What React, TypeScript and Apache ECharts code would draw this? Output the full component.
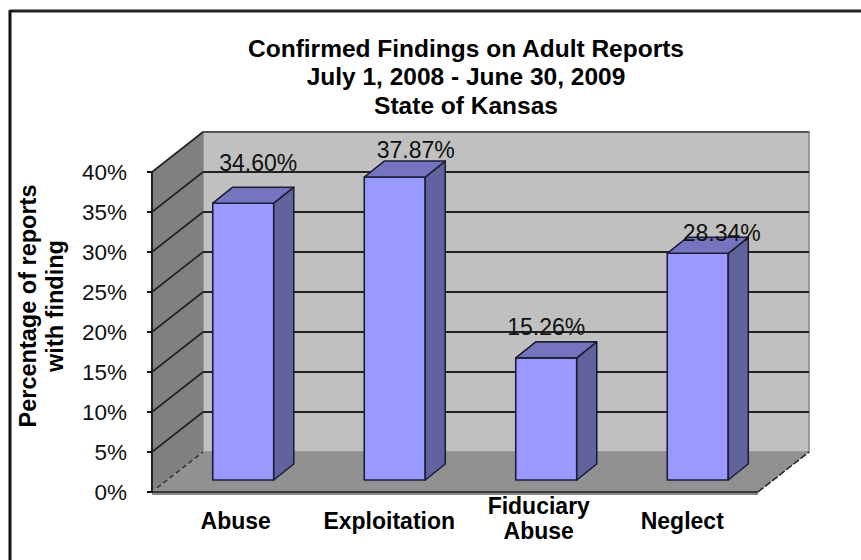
import React, { useEffect, useRef } from "react";
import * as echarts from "echarts";

const titleLines = ["Confirmed Findings on Adult Reports", "July 1, 2008 - June 30, 2009", "State of Kansas"];
const categories = ["Abuse", "Exploitation", "Fiduciary\nAbuse", "Neglect"];
const percentages = [34.6, 37.87, 15.26, 28.34];
const yTicks = [0, 5, 10, 15, 20, 25, 30, 35, 40];
const labelShiftX = [15, 21, 0, 24];
const labelLift = [40, 27, 31, 20];
const labelShiftCat: Record<string, number> = { Abuse: 16, Exploitation: 20, "Fiduciary\nAbuse": 16, Neglect: 0 };

const WALL_DX = 51;
const WALL_DY = -40;
const BAR_DX = 20;
const BAR_DY = -16;
const BAR_FRONT_DX = 15.5;
const BAR_FRONT_DY = -12;
const BAR_W = 61;

function renderWall(params: any, api: any) {
  const v = api.value(0);
  const cs = params.coordSys;
  const left = cs.x;
  const right = cs.x + cs.width;
  const y = api.coord([0, v])[1];
  const children: any[] = [];
  const dark = "#222";
  if (v === 0) {
    const top = api.coord([0, 40])[1];
    children.push(
      { type: "polygon", shape: { points: [[left + WALL_DX, top + WALL_DY], [right + WALL_DX, top + WALL_DY], [right + WALL_DX, y + WALL_DY], [left + WALL_DX, y + WALL_DY]] }, style: { fill: "#C0C0C0", stroke: "#9a9a9a", lineWidth: 2 } },
      { type: "polygon", shape: { points: [[left, top], [left + WALL_DX, top + WALL_DY], [left + WALL_DX, y + WALL_DY], [left, y]] }, style: { fill: "#808080" } },
      { type: "polygon", shape: { points: [[left, y], [right, y], [right + WALL_DX, y + WALL_DY], [left + WALL_DX, y + WALL_DY]] }, style: { fill: "#919191" } },
      { type: "line", shape: { x1: left + 5, y1: y - 4, x2: left + WALL_DX, y2: y + WALL_DY }, style: { stroke: "#333", lineWidth: 1.5, lineDash: [5, 3] } },
      { type: "line", shape: { x1: right, y1: y, x2: right + WALL_DX, y2: y + WALL_DY }, style: { stroke: "#222", lineWidth: 1.5, lineDash: [7, 2] } },
      { type: "rect", shape: { x: left, y: y, width: right - left, height: 3 }, style: { fill: "#888" } },
      { type: "line", shape: { x1: left, y1: y, x2: right, y2: y }, style: { stroke: dark, lineWidth: 1.5 } }
    );
  } else {
    children.push(
      { type: "line", shape: { x1: left, y1: y, x2: left + WALL_DX, y2: y + WALL_DY }, style: { stroke: dark, lineWidth: 1.6 } },
      { type: "line", shape: { x1: left + WALL_DX, y1: y + WALL_DY, x2: right + WALL_DX, y2: y + WALL_DY }, style: { stroke: v === 40 ? "#555" : dark, lineWidth: 2 } }
    );
  }
  return { type: "group", children };
}

function renderBar(params: any, api: any) {
  const i = api.value(0);
  const v = api.value(1);
  const [cx, yTop0] = api.coord([i, v]);
  const [, yBase0] = api.coord([i, 0]);
  const xl = cx + BAR_FRONT_DX - BAR_W / 2;
  const xr = xl + BAR_W;
  const yTop = yTop0 + BAR_FRONT_DY;
  const yBase = yBase0 + BAR_FRONT_DY;
  const edge = { stroke: "#1d1d38", lineWidth: 1.6, lineJoin: "round" };
  return {
    type: "group",
    children: [
      { type: "polygon", shape: { points: [[xl, yTop], [xr, yTop], [xr, yBase], [xl, yBase]] }, style: { fill: "#9999FF", ...edge } },
      { type: "polygon", shape: { points: [[xr, yTop], [xr + BAR_DX, yTop + BAR_DY], [xr + BAR_DX, yBase + BAR_DY], [xr, yBase]] }, style: { fill: "#62629F", ...edge } },
      { type: "polygon", shape: { points: [[xl, yTop], [xl + BAR_DX, yTop + BAR_DY], [xr + BAR_DX, yTop + BAR_DY], [xr, yTop]] }, style: { fill: "#7474BF", ...edge } },
      {
        type: "text",
        style: {
          x: cx + BAR_FRONT_DX + labelShiftX[i],
          y: yTop - labelLift[i],
          text: v.toFixed(2) + "%",
          fill: "#111",
          font: '23px "Liberation Sans", Arial, sans-serif',
          align: "center",
          verticalAlign: "middle",
        },
      },
    ],
  };
}

export default function App() {
  const ref = useRef<HTMLDivElement>(null);
  useEffect(() => {
    const chart = echarts.init(ref.current!, undefined, { renderer: "svg" });
    const font = '"Liberation Sans", Arial, sans-serif';
    const rich: any = {};
    categories.forEach((c, i) => {
      rich["c" + i] = {
        fontFamily: font,
        fontWeight: "bold",
        fontSize: 23,
        lineHeight: 25,
        color: "#000",
        padding: [c.includes("\n") ? 0 : 6, 0, 0, labelShiftCat[c]],
      };
    });
    chart.setOption({
      animation: false,
      backgroundColor: "#fff",
      title: {
        text: titleLines.join("\n"),
        left: 461,
        top: 29,
        textAlign: "center",
        textStyle: { fontFamily: font, fontWeight: "bold", fontSize: 24.5, lineHeight: 28.5, color: "#000" },
      },
      graphic: [
        { type: "line", shape: { x1: 10, y1: 11, x2: 861, y2: 11 }, style: { stroke: "#222", lineWidth: 3 } },
        { type: "line", shape: { x1: 10, y1: 10, x2: 10, y2: 560 }, style: { stroke: "#111", lineWidth: 3 } },
      ],
      grid: { left: 152, right: 103, top: 172, bottom: 68, outerBoundsMode: "none" },
      xAxis: {
        type: "category",
        data: categories,
        axisLine: { show: false },
        axisTick: { show: false },
        axisLabel: {
          interval: 0,
          margin: 26,
          verticalAlign: "middle",
          formatter: (val: string) => {
            const i = categories.indexOf(val);
            return val.split("\n").map((l) => `{c${i}|${l}}`).join("\n");
          },
          rich,
        },
      },
      yAxis: {
        type: "value",
        min: 0,
        max: 40,
        interval: 5,
        name: "Percentage of reports\nwith finding",
        nameLocation: "middle",
        nameGap: 84,
        nameTextStyle: { fontFamily: font, fontWeight: "bold", fontSize: 23.5, lineHeight: 27, color: "#000", padding: [0, 0, 0, 52] },
        splitLine: { show: false },
        axisLine: { show: true, lineStyle: { color: "#222", width: 2 } },
        axisTick: { show: true, length: 5, lineStyle: { color: "#111", width: 2 } },
        axisLabel: { formatter: "{value}%", fontFamily: font, fontSize: 22.5, color: "#111", margin: 25 },
        z: 5,
      },
      series: [
        { type: "custom", renderItem: renderWall, data: yTicks.map((t) => [t]), encode: { y: 0 }, silent: true, z: 1, clip: false },
        { type: "custom", renderItem: renderBar, data: percentages.map((p, i) => [i, p]), encode: { x: 0, y: 1 }, silent: true, z: 2, clip: false },
      ],
    });
    return () => chart.dispose();
  }, []);
  return <div ref={ref} style={{ position: "fixed", left: 0, top: 0, width: 861, height: 560 }} />;
}
